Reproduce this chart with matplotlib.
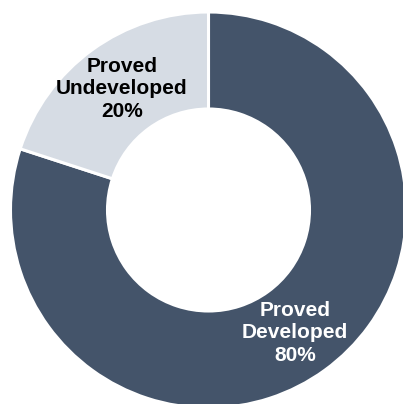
import matplotlib.pyplot as plt

labels = ['Proved\nDeveloped', 'Proved\nUndeveloped']
shares = [80, 20]
colors = ['#44546A', '#D6DCE4']
text_colors = ['white', 'black']

plt.rcParams['font.family'] = ['Liberation Sans', 'DejaVu Sans']

fig = plt.figure(figsize=(4.03, 4.04), dpi=100)
ax = fig.add_axes([0, 0, 1, 1])

cx, cy, r = 208.5, 194, 198
wedges, _ = ax.pie(shares, colors=colors, startangle=90, counterclock=False,
                   center=(cx, cy), radius=r, frame=True,
                   wedgeprops=dict(width=97, edgecolor='white', linewidth=2.2))
ax.set_xlim(0, 403)
ax.set_ylim(0, 404)
ax.set_aspect('equal')
ax.axis('off')

# label positions (pixels from top-left)
label_pos = [(295, 333), (122, 89)]
for lab, s, tc, (x, y) in zip(labels, shares, text_colors, label_pos):
    ax.text(x, 404 - y, f'{lab}\n{s}%', ha='center', va='center',
            fontsize=15, fontweight='bold', color=tc, linespacing=1.22)

fig.savefig('out.png', dpi=100)
